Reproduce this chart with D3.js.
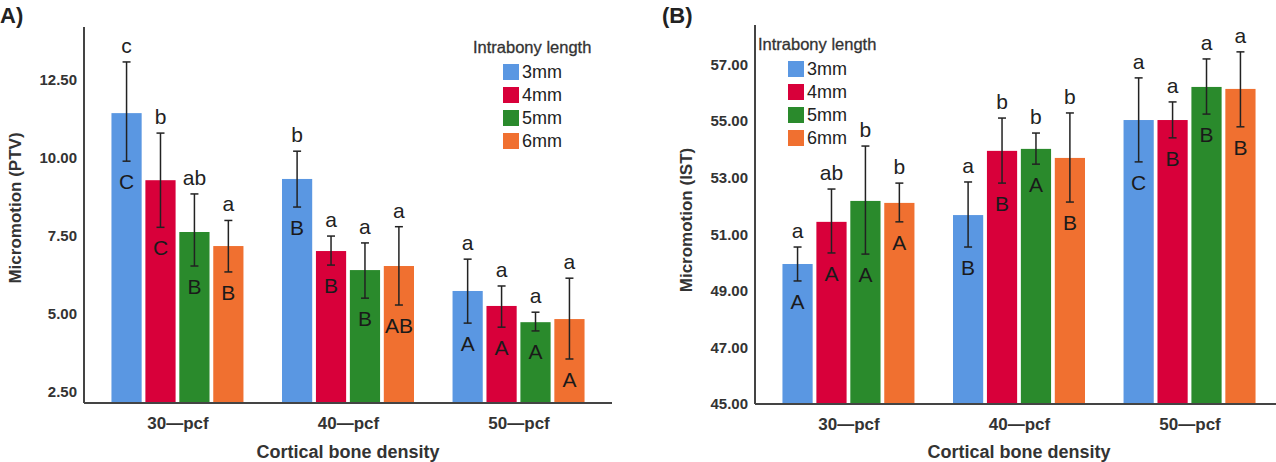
<!DOCTYPE html>
<html>
<head>
<meta charset="utf-8">
<script src="https://cdn.jsdelivr.net/npm/d3@7"></script>
<style>
  body { margin: 0; background: #fff; }
  svg { display: block; font-family: "Liberation Sans", Arial, sans-serif; }
</style>
</head>
<body>
<div id="chart"></div>
<script>

// shared categories
var groups = ["30—pcf", "40—pcf", "50—pcf"];
var series = ["3mm", "4mm", "5mm", "6mm"];
var colors = ["#5a97e2", "#d8003a", "#2a8a2c", "#f07030"];

// panel A - PTV (rows = groups, cols = series)
var ptvMean = [[11.44, 9.29, 7.63, 7.18], [9.33, 7.02, 6.41, 6.54], [5.74, 5.26, 4.74, 4.84]];
var ptvHi   = [[13.08, 10.80, 8.85, 8.00], [10.22, 7.50, 7.28, 7.80], [6.76, 5.90, 5.06, 6.15]];
var ptvLo   = [[9.90, 7.78, 6.54, 6.35], [8.43, 6.57, 5.51, 5.29], [4.71, 4.58, 4.46, 3.56]];
var ptvLower = [["c", "b", "ab", "a"], ["b", "a", "a", "a"], ["a", "a", "a", "a"]];
var ptvUpper = [["C", "C", "B", "B"], ["B", "B", "B", "AB"], ["A", "A", "A", "A"]];
var ptvTicks = [2.5, 5, 7.5, 10, 12.5];

// panel B - IST
var istMean = [[49.95, 51.44, 52.18, 52.11], [51.68, 53.95, 54.02, 53.70], [55.04, 55.04, 56.21, 56.14]];
var istHi   = [[50.55, 52.60, 54.12, 52.81], [52.85, 55.11, 54.58, 55.29], [56.53, 55.68, 57.20, 57.45]];
var istLo   = [[49.35, 50.34, 50.30, 51.44], [50.55, 52.81, 53.48, 52.14], [53.56, 54.41, 55.25, 54.80]];
var istLower = [["a", "ab", "b", "b"], ["a", "b", "b", "b"], ["a", "a", "a", "a"]];
var istUpper = [["A", "A", "A", "A"], ["B", "B", "A", "B"], ["C", "B", "B", "B"]];
var istTicks = [45, 47, 49, 51, 53, 55, 57];

var svg = d3.select("#chart").append("svg")
    .attr("width", 1276)
    .attr("height", 462);

function drawPanel(opt) {

    var g = svg.append("g").attr("transform", "translate(" + opt.left + ",0)");
    var plotW = 528;

    var x = d3.scalePoint().domain(groups).range([0, plotW]).padding(0.548);
    var xi = d3.scaleBand().domain(series).range([-66, 66]).paddingInner(0.11);
    var y = d3.scaleLinear().domain(opt.domain).range([opt.bottom, opt.top]);

    var rows = [];
    groups.forEach(function (grp, i) {
        series.forEach(function (s, j) {
            rows.push({
                grp: grp, s: s, j: j,
                mean: opt.mean[i][j], hi: opt.hi[i][j], lo: opt.lo[i][j],
                low: opt.lower[i][j], up: opt.upper[i][j]
            });
        });
    });

    // bars
    g.selectAll("rect.bar")
        .data(rows)
        .enter()
        .append("rect")
        .attr("class", "bar")
        .attr("x", function (d) { return x(d.grp) + xi(d.s); })
        .attr("width", xi.bandwidth())
        .attr("y", function (d) { return y(d.mean); })
        .attr("height", function (d) { return opt.bottom - y(d.mean); })
        .style("fill", function (d) { return colors[d.j]; });

    // error bars
    var eb = g.selectAll("g.err")
        .data(rows)
        .enter()
        .append("g")
        .attr("class", "err")
        .attr("transform", function (d) { return "translate(" + (x(d.grp) + xi(d.s) + xi.bandwidth() / 2) + ",0)"; })
        .style("stroke", "#222")
        .style("stroke-width", 1.5);

    eb.append("line")
        .attr("y1", function (d) { return y(d.hi); })
        .attr("y2", function (d) { return y(d.lo); });
    eb.append("line")
        .attr("x1", -4).attr("x2", 4)
        .attr("y1", function (d) { return y(d.hi); })
        .attr("y2", function (d) { return y(d.hi); });
    eb.append("line")
        .attr("x1", -4).attr("x2", 4)
        .attr("y1", function (d) { return y(d.lo); })
        .attr("y2", function (d) { return y(d.lo); });

    // letters
    g.selectAll("text.low")
        .data(rows)
        .enter()
        .append("text")
        .attr("class", "low")
        .attr("x", function (d) { return x(d.grp) + xi(d.s) + xi.bandwidth() / 2; })
        .attr("y", function (d) { return y(d.hi) - 9; })
        .attr("text-anchor", "middle")
        .style("font-size", "21px")
        .style("fill", "#222")
        .text(function (d) { return d.low; });

    g.selectAll("text.up")
        .data(rows)
        .enter()
        .append("text")
        .attr("class", "up")
        .attr("x", function (d) { return x(d.grp) + xi(d.s) + xi.bandwidth() / 2; })
        .attr("y", function (d) { return y(d.lo) + 28; })
        .attr("text-anchor", "middle")
        .style("font-size", "21px")
        .style("fill", "#1a1a1a")
        .text(function (d) { return d.up; });

    // axes
    var yAxis = g.append("g")
        .call(d3.axisLeft(y).tickValues(opt.ticks).tickSize(0).tickPadding(7)
            .tickFormat(d3.format(".2f")));
    yAxis.select(".domain").remove();
    yAxis.selectAll("text")
        .style("font-size", "15px")
        .style("font-weight", "bold")
        .style("fill", "#333");

    var xAxis = g.append("g")
        .attr("transform", "translate(0," + opt.bottom + ")")
        .call(d3.axisBottom(x).tickSize(0).tickPadding(14));
    xAxis.select(".domain").remove();
    xAxis.selectAll("text")
        .style("font-size", "17px")
        .style("font-weight", "bold")
        .style("fill", "#333");

    g.append("line")
        .attr("x1", 0).attr("x2", 0)
        .attr("y1", opt.top).attr("y2", opt.bottom)
        .style("stroke", "#444").style("stroke-width", 2);
    g.append("line")
        .attr("x1", 0).attr("x2", plotW)
        .attr("y1", opt.bottom).attr("y2", opt.bottom)
        .style("stroke", "#444").style("stroke-width", 2);

    // titles
    g.append("text")
        .attr("x", plotW / 2)
        .attr("y", 458)
        .attr("text-anchor", "middle")
        .style("font-size", "18px")
        .style("font-weight", "bold")
        .style("fill", "#333")
        .text("Cortical bone density");

    g.append("text")
        .attr("transform", "translate(" + opt.ytitleX + "," + opt.ytitleY + ") rotate(-90)")
        .attr("text-anchor", "middle")
        .style("font-size", "17px")
        .style("font-weight", "bold")
        .style("fill", "#333")
        .text(opt.ytitle);

    svg.append("text")
        .attr("x", opt.labelX)
        .attr("y", 23)
        .style("font-size", "22px")
        .style("font-weight", "bold")
        .style("fill", "#222")
        .text(opt.label);

    // legend
    var lg = g.append("g").attr("transform", "translate(" + opt.legX + "," + opt.legY + ")");
    lg.append("text")
        .attr("x", opt.legTitleDx)
        .attr("y", 0)
        .style("font-size", "16.5px")
        .style("fill", "#333")
        .style("stroke", "#333")
        .style("stroke-width", 0.3)
        .text("Intrabony length");
    var items = lg.selectAll("g.item")
        .data(series)
        .enter()
        .append("g")
        .attr("class", "item")
        .attr("transform", function (d, i) { return "translate(0," + (11 + i * 23) + ")"; });
    items.append("rect")
        .attr("width", 16).attr("height", 16)
        .style("fill", function (d, i) { return colors[i]; });
    items.append("text")
        .attr("x", 19)
        .attr("y", 14)
        .style("font-size", "18px")
        .style("fill", "#222")
        .text(function (d) { return d; });
}

drawPanel({
    left: 84, top: 27, bottom: 403, domain: [2.15, 14.2],
    mean: ptvMean, hi: ptvHi, lo: ptvLo, lower: ptvLower, upper: ptvUpper, ticks: ptvTicks,
    ytitle: "Micromotion (PTV)", ytitleX: -63, ytitleY: 208,
    label: "A)", labelX: 0,
    legX: 419, legY: 53, legTitleDx: -30
});

drawPanel({
    left: 755, top: 25, bottom: 404, domain: [45, 58.4],
    mean: istMean, hi: istHi, lo: istLo, lower: istLower, upper: istUpper, ticks: istTicks,
    ytitle: "Micromotion (IST)", ytitleX: -63, ytitleY: 220,
    label: "(B)", labelX: 662,
    legX: 33, legY: 50, legTitleDx: -30
});

</script>
</body>
</html>
